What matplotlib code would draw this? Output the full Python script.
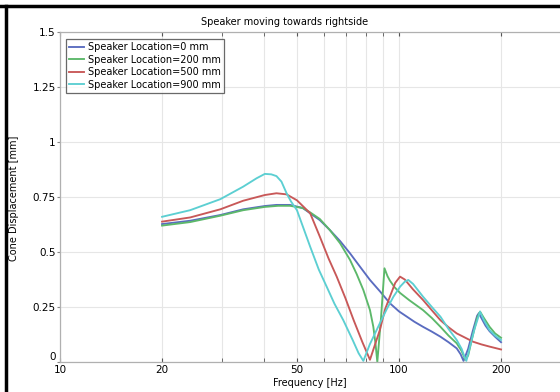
import matplotlib
matplotlib.use("Agg")
import matplotlib.pyplot as plt
from matplotlib.ticker import FixedLocator, LogLocator, NullFormatter, FixedFormatter
from matplotlib.lines import Line2D

plt.rcParams['font.family'] = ['DejaVu Sans']

title = "Speaker moving towards rightside"
xlabel = "Frequency [Hz]"
ylabel = "Cone Displacement [mm]"
labels = ["Speaker Location=0 mm", "Speaker Location=200 mm",
          "Speaker Location=500 mm", "Speaker Location=900 mm"]
colors = ["#5a6cc0", "#5cb86a", "#c85858", "#5ccfd2"]

f_blue = [20, 24.2, 29.7, 34.7, 40.2, 43.5, 47.7, 52, 54.7, 58.4, 62.5, 67, 71.7, 77, 82.1,
          88, 94, 100, 105.5, 111, 117.7, 125, 132.5, 140, 148, 152, 155, 160, 165, 170,
          172, 175, 180, 185, 192, 200]
v_blue = [0.627, 0.642, 0.668, 0.694, 0.709, 0.714, 0.714, 0.70, 0.676, 0.645, 0.60, 0.55,
          0.494, 0.43, 0.373, 0.32, 0.267, 0.23, 0.206, 0.183, 0.16, 0.138, 0.115, 0.09,
          0.062, 0.035, 0.005, 0.06, 0.14, 0.21, 0.222, 0.2, 0.165, 0.14, 0.115, 0.09]

f_green = [20, 24.2, 29.7, 34.7, 40.2, 44, 47.7, 52, 54.7, 58.4, 62.5, 67, 71.7, 75, 78.5,
           82.1, 84, 85.3, 86.3, 88.5, 90.6, 92.5, 94, 97, 100.7, 107, 117.7, 125, 132.5,
           140, 148, 153, 157, 160, 165, 170, 173.4, 178, 185, 192, 200]
v_green = [0.62, 0.636, 0.665, 0.69, 0.705, 0.71, 0.71, 0.70, 0.68, 0.65, 0.60, 0.54, 0.464,
           0.40, 0.327, 0.236, 0.16, 0.08, 0.0, 0.2, 0.426, 0.39, 0.37, 0.34, 0.314, 0.282,
           0.236, 0.2, 0.16, 0.12, 0.085, 0.05, 0.01, 0.03, 0.12, 0.2, 0.229, 0.2, 0.16,
           0.13, 0.11]

f_red = [20, 24.2, 29.7, 34.7, 40.2, 43.5, 46.6, 50, 54.7, 58.4, 62, 65.5, 69.5, 73.5, 78,
         82.1, 85, 87.8, 91, 94, 97.5, 100.7, 104, 110, 117.7, 125, 132.5, 140, 148, 157,
         165.5, 175, 185, 200]
v_red = [0.638, 0.657, 0.694, 0.733, 0.759, 0.767, 0.762, 0.735, 0.676, 0.57, 0.47, 0.388,
         0.29, 0.19, 0.09, 0.01, 0.08, 0.145, 0.24, 0.297, 0.36, 0.388, 0.375, 0.33, 0.282,
         0.235, 0.19, 0.158, 0.13, 0.11, 0.092, 0.08, 0.07, 0.057]

f_cyan = [20, 24.2, 29.7, 34.7, 38, 40.2, 42, 43.5, 45, 46.6, 48, 50, 54.7, 58, 61.2, 64.5,
          68.5, 73, 76, 78.5, 82, 87.8, 92, 96.3, 100.7, 104, 106.5, 110, 117.7, 125, 132.5,
          140, 148, 153, 156, 158, 162, 167, 173.4, 178, 185, 192, 200]
v_cyan = [0.66, 0.69, 0.74, 0.797, 0.835, 0.855, 0.853, 0.845, 0.82, 0.767, 0.73, 0.69,
          0.524, 0.42, 0.342, 0.265, 0.19, 0.1, 0.04, 0.005, 0.08, 0.176, 0.24, 0.297,
          0.342, 0.365, 0.373, 0.355, 0.297, 0.25, 0.206, 0.15, 0.1, 0.06, 0.024, 0.005,
          0.07, 0.15, 0.229, 0.19, 0.145, 0.12, 0.1]

xticks = [10, 20, 50, 100, 200]
xticklabels = ["10", "20", "50", "100", "200"]
yticks = [0, 0.25, 0.5, 0.75, 1, 1.25, 1.5]
yticklabels = ["0", "0.25", "0.5", "0.75", "1", "1.25", "1.5"]

W, H = 560, 392
fig = plt.figure(figsize=(W / 100, H / 100), dpi=100)
left, bottom, top = 60, 362, 32
span_px = 339 * 2.0  # 10 -> 1000 on log scale
ax = fig.add_axes([left / W, (H - bottom) / H, span_px / W, (bottom - top) / H])

series = [(f_blue, v_blue), (f_green, v_green), (f_red, v_red), (f_cyan, v_cyan)]
for (f, v), c, lab in zip(series, colors, labels):
    ax.plot(f, v, color=c, lw=1.35, label=lab)

ax.set_xscale('log')
ax.set_xlim(10, 1000)
ax.set_ylim(0, 1.5)
ax.xaxis.set_major_locator(FixedLocator(xticks))
ax.xaxis.set_major_formatter(FixedFormatter(xticklabels))
ax.xaxis.set_minor_locator(LogLocator(base=10, subs=range(1, 10)))
ax.xaxis.set_minor_formatter(NullFormatter())
ax.set_yticks(yticks)
ax.set_yticklabels(yticklabels)
ax.get_yticklabels()[0].set_va('bottom')

ax.grid(True, which='both', axis='x', color='#e6e6e6', lw=0.8)
ax.grid(True, which='major', axis='y', color='#e6e6e6', lw=0.8)
ax.set_axisbelow(True)
for s in ax.spines.values():
    s.set_color('#b0b0b0')
    s.set_linewidth(0.9)
ax.tick_params(axis='x', which='both', direction='in', top=True, length=3,
               color='#555555', labelsize=7.5, pad=2)
ax.tick_params(axis='y', which='both', direction='out', length=2,
               color='#888888', labelsize=7.5, pad=1)

fig.text(285 / W, 1 - 22 / H, title, ha='center', va='center', fontsize=7)
fig.text(310 / W, 1 - 383 / H, xlabel, ha='center', va='center', fontsize=7)
fig.text(14 / W, 1 - 198 / H, ylabel, ha='center', va='center', rotation=90, fontsize=7)

leg = ax.legend(loc='upper left', bbox_to_anchor=(66 / W, 1 - 39 / H),
                bbox_transform=fig.transFigure, fontsize=7, frameon=True, fancybox=False,
                handlelength=1.5, handletextpad=0.4, borderpad=0.35, labelspacing=0.25,
                borderaxespad=0)
leg.get_frame().set_edgecolor('#444444')
leg.get_frame().set_linewidth(0.9)

fig.add_artist(Line2D([0, 1], [1 - 6 / H, 1 - 6 / H], transform=fig.transFigure,
                      color='black', lw=2.5))
fig.add_artist(Line2D([6 / W, 6 / W], [0, 1 - 6 / H], transform=fig.transFigure,
                      color='black', lw=2.5))

fig.savefig("out.png", dpi=100)
